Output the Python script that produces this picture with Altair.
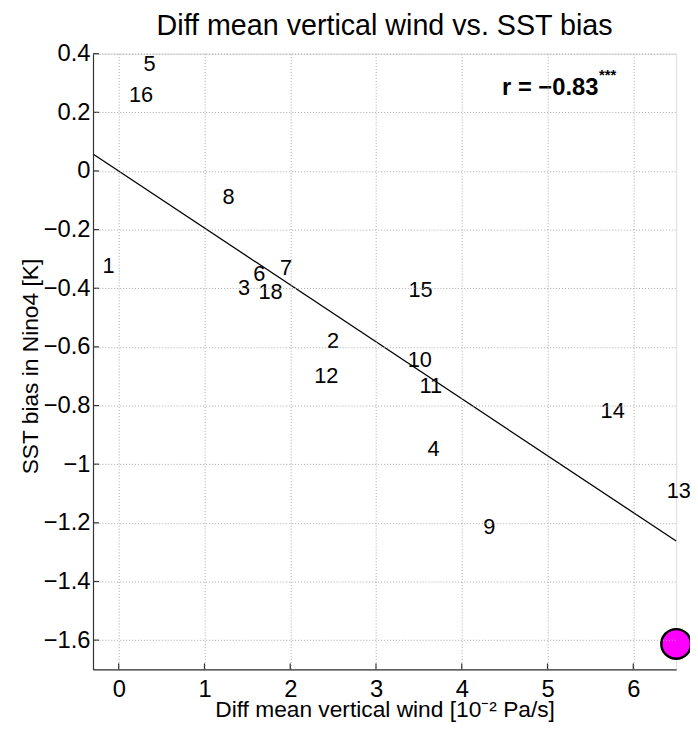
import altair as alt
import pandas as pd

# ---- data ----
model_labels = ["1", "2", "3", "4", "5", "6", "7", "8", "9", "10",
                "11", "12", "13", "14", "15", "16", "18"]
wind_diff = [-0.12, 2.50, 1.46, 3.67, 0.36, 1.64, 1.95, 1.28, 4.32, 3.51,
             3.64, 2.42, 6.53, 5.76, 3.52, 0.26, 1.77]
sst_bias = [-0.324, -0.579, -0.400, -0.950, 0.364, -0.352, -0.330, -0.088, -1.214, -0.644,
            -0.734, -0.698, -1.090, -0.820, -0.406, 0.260, -0.414]

obs_x = [6.5]
obs_y = [-1.613]

fit_x = [-0.3, 6.5]
fit_y = [0.058, -1.262]

r_text = ["r = \u22120.83"]
r_x = [4.47]
r_y = [0.26]
star_text = ["***"]
star_x = [5.60]
star_y = [0.327]

x_ticks = [0, 1, 2, 3, 4, 5, 6]
y_ticks = [-1.6, -1.4, -1.2, -1.0, -0.8, -0.6, -0.4, -0.2, 0.0, 0.2, 0.4]
x_domain = [-0.3, 6.5]
y_domain = [-1.7, 0.4]

FONT = "Liberation Sans"
W, H = 590, 623

pts = pd.DataFrame({"label": model_labels, "x": wind_diff, "y": sst_bias})
obs = pd.DataFrame({"x": obs_x, "y": obs_y})
fit = pd.DataFrame({"x": fit_x, "y": fit_y})
rdf = pd.DataFrame({"t": r_text, "x": r_x, "y": r_y})
sdf = pd.DataFrame({"t": star_text, "x": star_x, "y": star_y})
xt = pd.DataFrame({"x": x_ticks, "y": [y_domain[0]] * len(x_ticks)})
yt = pd.DataFrame({"x": [x_domain[0]] * len(y_ticks), "y": y_ticks})

xs = alt.Scale(domain=x_domain, nice=False, zero=False)
ys = alt.Scale(domain=y_domain, nice=False, zero=False)

main_x_axis = alt.Axis(
    values=x_ticks, format="~g", ticks=False, labelPadding=8,
    labelFontSize=24, labelFont=FONT, labelColor="#000",
    grid=True, gridColor="#a8a8a8", gridDash=[1, 2], gridWidth=1,
    domain=True, domainColor="#333", domainWidth=1.2, zindex=1,
    title="Diff mean vertical wind [10\u207b\u00b2 Pa/s]",
    titleFont=FONT, titleFontSize=23, titleFontWeight="normal", titleColor="#000",
    titleX=295, titleY=48, titleBaseline="alphabetic",
)
main_y_axis = alt.Axis(
    values=y_ticks, format=".1~f", ticks=False, labelPadding=3,
    labelFontSize=24, labelFont=FONT, labelColor="#000",
    grid=True, gridColor="#a8a8a8", gridDash=[1, 2], gridWidth=1,
    domain=True, domainColor="#333", domainWidth=1.2, zindex=1,
    title="SST bias in Nino4 [K]",
    titleFont=FONT, titleFontSize=23, titleFontWeight="normal", titleColor="#000",
    titleX=-56, titleY=316, titleBaseline="alphabetic", titleAngle=-90,
)

base = alt.Chart(pts).encode(
    x=alt.X("x:Q", scale=xs, axis=main_x_axis),
    y=alt.Y("y:Q", scale=ys, axis=main_y_axis),
)
labels = base.mark_text(font=FONT, fontSize=22, color="#000",
                        align="center", baseline="middle").encode(text="label:N")

line = alt.Chart(fit).mark_line(color="#000", strokeWidth=1.3).encode(
    x=alt.X("x:Q", scale=xs), y=alt.Y("y:Q", scale=ys))

# inward tick marks on the left and bottom edges
xticks_in = alt.Chart(xt).mark_tick(orient="vertical", size=6, thickness=1.2,
                                    yOffset=-3, color="#222", opacity=1).encode(
    x=alt.X("x:Q", scale=xs), y=alt.Y("y:Q", scale=ys))
yticks_in = alt.Chart(yt).mark_tick(orient="horizontal", size=6, thickness=1.2,
                                    xOffset=3, color="#222", opacity=1).encode(
    x=alt.X("x:Q", scale=xs), y=alt.Y("y:Q", scale=ys))

obs_pt = alt.Chart(obs).mark_point(shape="circle", filled=True, size=900,
                                   fill="#ff00ff", stroke="#000",
                                   strokeWidth=2.5, opacity=1).encode(
    x=alt.X("x:Q", scale=xs), y=alt.Y("y:Q", scale=ys))

rlab = alt.Chart(rdf).mark_text(font=FONT, fontSize=24, fontWeight="bold",
                                color="#000", align="left",
                                baseline="alphabetic").encode(
    x=alt.X("x:Q", scale=xs), y=alt.Y("y:Q", scale=ys), text="t:N")
slab = alt.Chart(sdf).mark_text(font=FONT, fontSize=15, fontWeight="bold",
                                color="#000", align="left",
                                baseline="middle").encode(
    x=alt.X("x:Q", scale=xs), y=alt.Y("y:Q", scale=ys), text="t:N")

chart = alt.layer(labels, line, xticks_in, yticks_in, obs_pt, rlab, slab).properties(
    width=W, height=H,
    title=alt.TitleParams(
        "Diff mean vertical wind vs. SST bias",
        font=FONT, fontSize=29, fontWeight="normal", color="#000",
        anchor="middle", frame="group", baseline="bottom", offset=0, dy=28,
    ),
    autosize=alt.AutoSizeParams(type="none"),
    padding={"left": 86, "top": 42, "right": 14, "bottom": 56},
).configure_view(
    stroke="#333", strokeWidth=1.2
).configure(background="#ffffff")

chart.save("out.html", embed_options={"renderer": "svg", "actions": False})
